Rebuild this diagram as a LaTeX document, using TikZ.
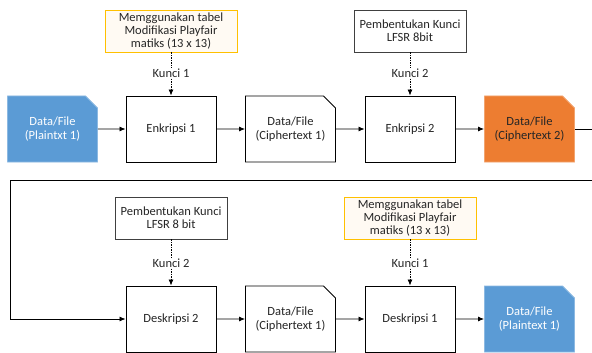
\documentclass[tikz,border=0pt]{standalone}
\usepackage{fontspec}
\setmainfont{Carlito}
\usetikzlibrary{arrows.meta,shapes.misc,positioning}

\definecolor{fileblue}{HTML}{5B9BD5}
\definecolor{fileorange}{HTML}{ED7D31}
\definecolor{keygold}{HTML}{FFC000}
\definecolor{keycream}{HTML}{FFFAF3}
\definecolor{inkgrey}{HTML}{262626}

\tikzset{
  procbox/.style={draw=black, line width=0.9pt, fill=white, minimum width=90pt,
    minimum height=66pt, align=center, text=inkgrey},
  filebox/.style={chamfered rectangle, chamfered rectangle corners=north east,
    chamfered rectangle xsep=6pt, chamfered rectangle ysep=6pt,
    draw=black, line width=0.9pt, fill=white, minimum width=90pt,
    minimum height=66pt, align=center, text=inkgrey},
  bluefile/.style={filebox, draw=fileblue!70, fill=fileblue, text=white},
  orangefile/.style={filebox, draw=fileorange!70, fill=fileorange, text=inkgrey},
  keybox/.style={draw=black!75, line width=0.8pt, fill=white, minimum height=42pt,
    align=center, text=inkgrey, font=\fontsize{12.5}{13}\selectfont, inner sep=2pt},
  goldkey/.style={keybox, draw=keygold, fill=keycream},
  keylabel/.style={inner sep=1pt, text=inkgrey},
  flow/.style={line width=0.8pt, -{Latex[length=6pt,width=5pt]}},
  keyline/.style={line width=0.8pt, dash pattern=on 1.5pt off 1pt},
}

\begin{document}
\begin{tikzpicture}[x=1pt, y=-1pt, font=\fontsize{12.5}{14}\selectfont]
  \useasboundingbox (0,0) rectangle (592,353);

  % baris enkripsi
  \node[bluefile]   (plain1) at (52.5,129) {Data/File\\(Plaintxt 1)};
  \node[procbox]    (enk1)   at (171,129)  {Enkripsi 1};
  \node[filebox]    (ciphA)  at (290.5,129) {Data/File\\(Ciphertext 1)};
  \node[procbox]    (enk2)   at (410,129)  {Enkripsi 2};
  \node[orangefile] (ciph2)  at (529.5,129) {Data/File\\(Ciphertext 2)};

  \node[goldkey, minimum width=132pt] (keyA) at (171,31)
    {Memggunakan tabel\\Modifikasi Playfair\\matiks (13 x 13)};
  \node[keybox, minimum width=112pt]  (keyB) at (410,31)
    {Pembentukan Kunci\\LFSR 8bit};
  \node[keylabel] (kunA) at (171,73) {Kunci 1};
  \node[keylabel] (kunB) at (410,73) {Kunci 2};

  % baris deskripsi
  \node[procbox]  (dek2)   at (171,319)  {Deskripsi 2};
  \node[filebox]  (ciphB)  at (290.5,319) {Data/File\\(Ciphertext 1)};
  \node[procbox]  (dek1)   at (410,319)  {Deskripsi 1};
  \node[bluefile] (plain2) at (529.5,319) {Data/File\\(Plaintext 1)};

  \node[keybox, minimum width=112pt]  (keyC) at (171,218)
    {Pembentukan Kunci\\LFSR 8 bit};
  \node[goldkey, minimum width=132pt] (keyD) at (410,218)
    {Memggunakan tabel\\Modifikasi Playfair\\matiks (13 x 13)};
  \node[keylabel] (kunC) at (171,263) {Kunci 2};
  \node[keylabel] (kunD) at (410,263) {Kunci 1};

  % kunci
  \foreach \k/\l/\b in {keyA/kunA/enk1, keyB/kunB/enk2, keyC/kunC/dek2, keyD/kunD/dek1}{
    \draw[keyline] (\k) -- (\l);
    \draw[keyline, -{Latex[length=6pt,width=5pt]}] (\l) -- (\b);
  }

  % alur data
  \draw[flow] (plain1) -- (enk1);
  \draw[flow] (enk1) -- (ciphA);
  \draw[flow] (ciphA) -- (enk2);
  \draw[flow] (enk2) -- (ciph2);
  \coordinate (turnR) at (595,180);
  \coordinate (turnL) at (10,180);
  \draw[flow] (ciph2.east) -| (turnR) -- (turnL) |- (dek2.west);
  \draw[flow] (dek2) -- (ciphB);
  \draw[flow] (ciphB) -- (dek1);
  \draw[flow] (dek1) -- (plain2);
\end{tikzpicture}
\end{document}
